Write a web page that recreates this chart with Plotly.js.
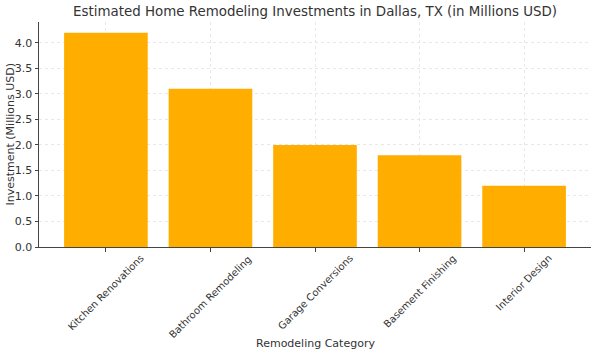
<!DOCTYPE html>
<html><head><meta charset="utf-8">
<script src="https://cdn.plot.ly/plotly-3.0.1.min.js"></script>
<style>html,body{margin:0;padding:0;background:#fff}#chart{width:597px;height:356px}</style>
</head><body><div id="chart"></div>
<script>
const categories = ["Kitchen Renovations","Bathroom Remodeling","Garage Conversions","Basement Finishing","Interior Design"];
const investments = [4.2, 3.1, 2.0, 1.8, 1.2];
const yTicks = [0, 0.5, 1.0, 1.5, 2.0, 2.5, 3.0, 3.5, 4.0];
const yTickText = yTicks.map(v => v.toFixed(1));

const font = "'DejaVu Sans', sans-serif";
const txt = "#333";
const xIdx = categories.map((_, i) => i);

const annotations = categories.map((c, i) => ({
  text: c, x: i, xref: "x", y: 0, yref: "paper", yshift: -3,
  xanchor: "center", yanchor: "top", textangle: -45, showarrow: false,
  font: {family: font, size: 10, color: txt}
}));
annotations.push({
  text: "Remodeling Category", x: 0.5, xref: "paper", y: 0, yref: "paper", yshift: -96,
  xanchor: "center", yanchor: "middle", showarrow: false,
  font: {family: font, size: 11, color: txt}
});
annotations.push({
  text: "Investment (Millions USD)", x: 0, xref: "paper", xshift: -29, y: 0.5, yref: "paper",
  xanchor: "center", yanchor: "middle", textangle: -90, showarrow: false,
  font: {family: font, size: 11, color: txt}
});

Plotly.newPlot("chart", [{
  type: "bar",
  x: xIdx,
  y: investments,
  width: 0.8,
  marker: {color: "#FFAE00"},
  hoverinfo: "none"
}], {
  width: 597, height: 356,
  margin: {l: 39, r: 6, t: 22, b: 109},
  paper_bgcolor: "#fff", plot_bgcolor: "#fff",
  font: {family: font, color: txt, size: 11},
  title: {text: "Estimated Home Remodeling Investments in Dallas, TX (in Millions USD)",
          font: {family: font, size: 13.4, color: txt}, x: 315/597, xanchor: "center", y: 1 - 11/356, yref: "container", yanchor: "middle"},
  xaxis: {
    range: [-0.64, 4.64],
    tickmode: "array", tickvals: xIdx, showticklabels: false,
    ticks: "outside", ticklen: 3.5, tickcolor: "#444",
    showgrid: true, gridcolor: "#e2e2e2", griddash: "dot", gridwidth: 0.8,
    showline: true, linecolor: "#444", linewidth: 1,
    zeroline: false
  },
  yaxis: {
    range: [0, 4.41],
    tickmode: "array", tickvals: yTicks, ticktext: yTickText,
    ticks: "outside", ticklen: 3.5, tickcolor: "#444",
    showgrid: true, gridcolor: "#e2e2e2", griddash: "dot", gridwidth: 0.8,
    showline: true, linecolor: "#444", linewidth: 1,
    zeroline: false,
    tickfont: {family: font, size: 11, color: txt}
  },
  annotations: annotations,
  showlegend: false
}, {displayModeBar: false, staticPlot: true});
</script>
</body></html>
